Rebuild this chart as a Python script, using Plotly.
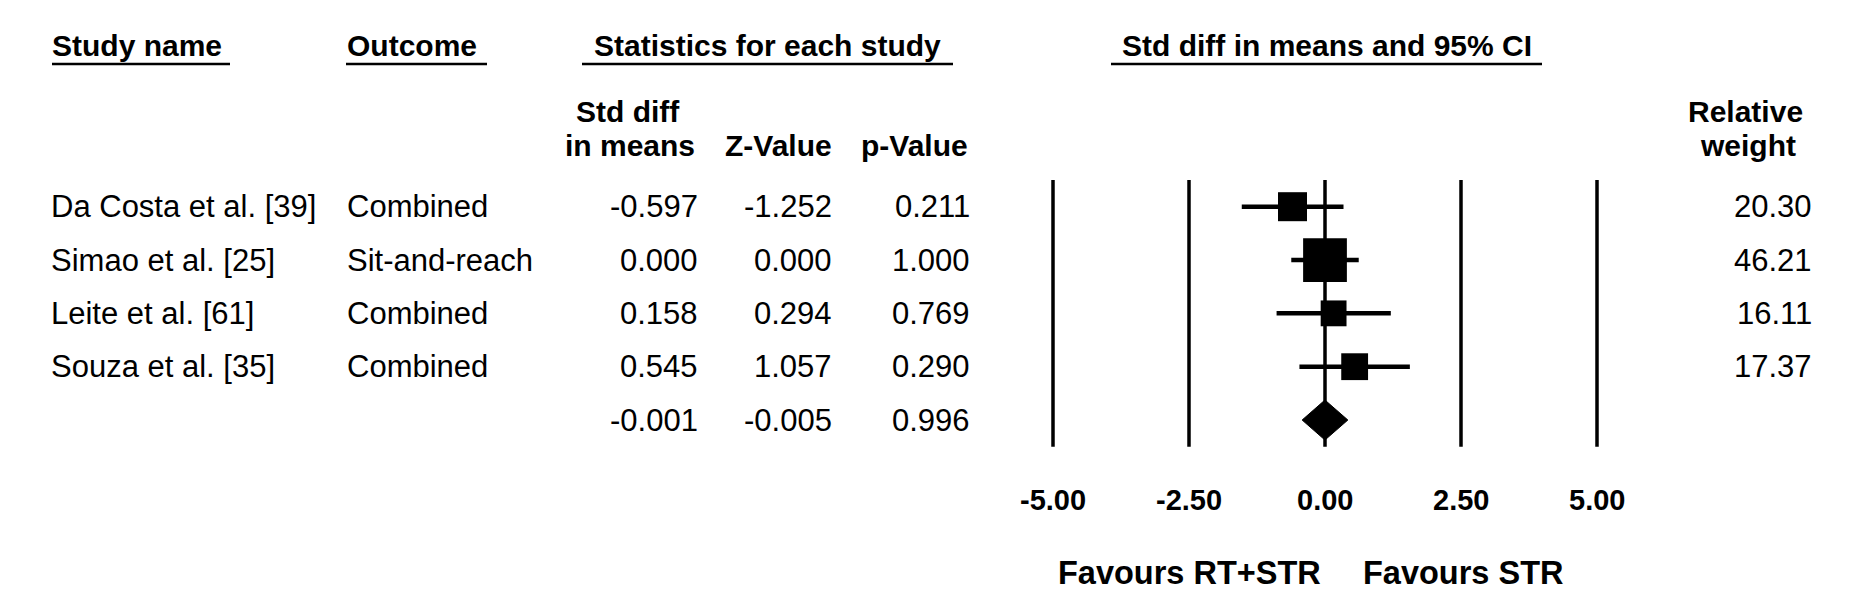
import plotly.graph_objects as go

# ---------------- data ----------------
studies = ["Da Costa et al. [39]", "Simao et al. [25]", "Leite et al. [61]", "Souza et al. [35]"]
outcomes = ["Combined", "Sit-and-reach", "Combined", "Combined"]
smd = [-0.597, 0.000, 0.158, 0.545]
z_values = [-1.252, 0.000, 0.294, 1.057]
p_values = [0.211, 1.000, 0.769, 0.290]
ci_lower = [-1.53, -0.62, -0.89, -0.47]
ci_upper = [0.34, 0.62, 1.21, 1.56]
weights = [20.30, 46.21, 16.11, 17.37]

summary_smd = -0.001
summary_z = -0.005
summary_p = 0.996
summary_lower = -0.42
summary_upper = 0.42

axis_ticks = [-5.0, -2.5, 0.0, 2.5, 5.0]
axis_tick_labels = ["-5.00", "-2.50", "0.00", "2.50", "5.00"]
favours_left = "Favours RT+STR"
favours_right = "Favours STR"

# ---------------- layout geometry ----------------
W, H = 1854, 609
PX_PER_UNIT = 54.4
ZERO_PX = 1325.0
ROW0_PX = 206.7
ROW_STEP = 53.33
FONT = "Liberation Sans, Arial, Helvetica, sans-serif"

x_range = [(0 - ZERO_PX) / PX_PER_UNIT, (W - ZERO_PX) / PX_PER_UNIT]
y_top = (0 - ROW0_PX) / ROW_STEP
y_bot = (H - ROW0_PX) / ROW_STEP


def px(xp):
    return xp / W


def py(yp):
    return 1 - yp / H


fig = go.Figure()

n = len(studies)
rows = list(range(n))

# confidence intervals + weight squares
fig.add_trace(go.Scatter(
    x=smd, y=rows, mode="markers",
    marker=dict(symbol="square", color="black", opacity=1,
                size=[6.437 * (w ** 0.5) for w in weights], line=dict(width=0)),
    error_x=dict(type="data", symmetric=False,
                 array=[u - m for u, m in zip(ci_upper, smd)],
                 arrayminus=[m - l for m, l in zip(smd, ci_lower)],
                 thickness=4.5, width=0, color="black"),
    hoverinfo="skip", showlegend=False,
))

# summary diamond
h = 20 / ROW_STEP
fig.add_trace(go.Scatter(
    x=[summary_lower, summary_smd, summary_upper, summary_smd, summary_lower],
    y=[n, n - h, n, n + h, n],
    mode="lines", fill="toself", fillcolor="black",
    line=dict(color="black", width=1),
    hoverinfo="skip", showlegend=False,
))

shapes = []
# vertical reference lines
for t in axis_ticks:
    shapes.append(dict(type="line", xref="x", yref="y", x0=t, x1=t, y0=-0.5, y1=n + 0.5,
                       line=dict(color="black", width=3.5), layer="below"))

# header underlines
for x0, x1 in [(52, 230), (346, 487), (582, 953), (1111, 1542)]:
    shapes.append(dict(type="line", xref="paper", yref="paper", x0=px(x0), x1=px(x1),
                       y0=py(64), y1=py(64), line=dict(color="black", width=2.5)))

ann = []


def text(t, xp, yp, anchor="left", size=31, bold=False, yref="paper"):
    ann.append(dict(
        text=f"<b>{t}</b>" if bold else t,
        x=px(xp), xref="paper",
        y=py(yp) if yref == "paper" else yp, yref=yref,
        xanchor=anchor, yanchor="middle", showarrow=False,
        font=dict(family=FONT, size=size, color="black"),
    ))


# headers
HB = 30
text("Study name", 50, 45, "left", HB, True)
text("Outcome", 345, 45, "left", HB, True)
text("Statistics for each study", 767, 45, "center", HB, True)
text("Std diff in means and 95% CI", 1327, 45, "center", HB, True)
text("Std diff", 628, 111, "center", HB, True)
text("in means", 630, 145, "center", HB, True)
text("Z-Value", 778, 145, "center", HB, True)
text("p-Value", 914, 145, "center", HB, True)
text("Relative", 1745, 111, "center", HB, True)
text("weight", 1748, 145, "center", HB, True)


def fmt(v):
    return f"{v:.3f}"


BS = 31
# rows
for i in range(n):
    text(studies[i], 49, i, "left", BS, False, yref="y")
    text(outcomes[i], 345, i, "left", BS, False, yref="y")
    text(fmt(smd[i]), 700, i, "right", BS, False, yref="y")
    text(fmt(z_values[i]), 834, i, "right", BS, False, yref="y")
    text(fmt(p_values[i]), 972, i, "right", BS, False, yref="y")
    text(f"{weights[i]:.2f}", 1814, i, "right", BS, False, yref="y")

text(fmt(summary_smd), 700, n, "right", BS, False, yref="y")
text(fmt(summary_z), 834, n, "right", BS, False, yref="y")
text(fmt(summary_p), 972, n, "right", BS, False, yref="y")

# axis tick labels
for t, lab in zip(axis_ticks, axis_tick_labels):
    ann.append(dict(text=f"<b>{lab}</b>", x=t, xref="x", y=py(500), yref="paper",
                    xanchor="center", yanchor="middle", showarrow=False,
                    font=dict(family=FONT, size=29, color="black")))

text(favours_left, 1323, 573, "right", 32.5, True)
text(favours_right, 1361, 573, "left", 32.5, True)

fig.update_layout(
    width=W, height=H,
    margin=dict(l=0, r=0, t=0, b=0),
    paper_bgcolor="white", plot_bgcolor="white",
    xaxis=dict(range=x_range, visible=False, fixedrange=True),
    yaxis=dict(range=[y_bot, y_top], visible=False, fixedrange=True),
    shapes=shapes, annotations=ann,
    showlegend=False,
)

fig.write_html("out.html", config={"displayModeBar": False})
